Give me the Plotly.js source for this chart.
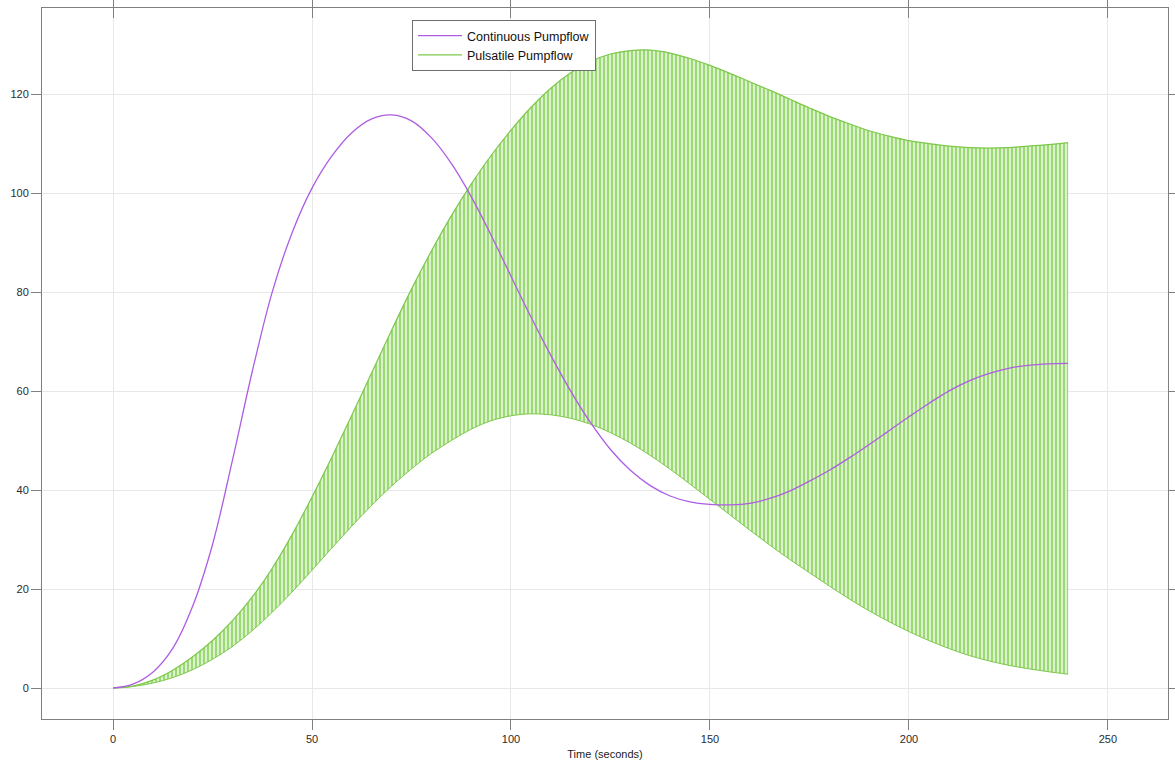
<!DOCTYPE html>
<html>
<head>
<meta charset="utf-8">
<script src="https://cdn.plot.ly/plotly-3.0.1.min.js"></script>
<style>
  html, body { margin: 0; padding: 0; background: #ffffff; }
  #chart { width: 1175px; height: 761px; }
</style>
</head>
<body>
<div id="chart"></div>
<script>
// Sample times (seconds)
const time = [0, 5, 10, 15, 20, 25, 30, 35, 40, 45, 50, 55, 60, 65, 70, 75, 80, 85, 90, 95,
  100, 105, 110, 115, 120, 125, 130, 135, 140, 145, 150, 155, 160, 165, 170, 175, 180, 185, 190, 195,
  200, 205, 210, 215, 220, 225, 230, 235, 240];

// Continuous pumpflow
const continuous = [0, 0.8, 3.2, 8, 16.5, 29, 46, 64, 80, 92, 101, 107.5, 112.2, 115, 115.8, 114.6, 111.2, 106, 99.3, 91.5,
  83.2, 75, 67.2, 60, 53.6, 48.2, 44, 40.9, 38.8, 37.6, 37.1, 37, 37.3, 38.3, 39.8, 41.8, 44, 46.5, 49.2, 52,
  54.8, 57.5, 60, 62, 63.5, 64.6, 65.2, 65.5, 65.6];

// Pulsatile pumpflow: peak values of the pulses
const pulsatileUpper = [0, 0.4, 1.6, 3.6, 6.3, 9.6, 13.6, 18.4, 24.2, 31, 38.6, 46.7, 55.1, 63.7, 72.3, 80.6, 88.3, 95.4, 101.8, 107.6,
  112.7, 117.3, 121.2, 124.3, 126.6, 128.1, 128.8, 128.9, 128.3, 127.2, 125.8, 124.2, 122.5, 120.8, 119, 117.2, 115.5, 114, 112.6, 111.5,
  110.6, 110, 109.5, 109.2, 109.1, 109.2, 109.5, 109.8, 110.2];

// Pulsatile pumpflow: trough values of the pulses
const pulsatileLower = [0, 0.3, 1, 2.1, 3.7, 5.8, 8.4, 11.6, 15.3, 19.4, 23.8, 28.3, 32.7, 36.9, 40.8, 44.3, 47.4, 50, 52.3, 54,
  55, 55.4, 55.2, 54.5, 53.3, 51.6, 49.5, 47, 44.2, 41.2, 38.1, 35, 31.9, 28.9, 26, 23.3, 20.6, 18, 15.6, 13.4,
  11.4, 9.6, 8, 6.6, 5.5, 4.6, 3.9, 3.3, 2.8];

const xTicks = [0, 50, 100, 150, 200, 250];
const yTicks = [0, 20, 40, 60, 80, 100, 120];

const purple = '#ad5de3';
const green = '#7dc84b';
const FONT = 'Liberation Sans, Arial, Helvetica, sans-serif';
const X_RANGE = [-17.85, 265.1];

const traces = [
  {
    x: time, y: pulsatileLower, type: 'scatter', mode: 'lines',
    showlegend: false, hoverinfo: 'skip',
    line: { color: green, width: 1, shape: 'spline' }
  },
  {
    x: time, y: pulsatileUpper, type: 'scatter', mode: 'lines',
    showlegend: false, fill: 'tonexty',
    fillcolor: '#dcf2cc',
    fillpattern: { shape: '|', size: 4, solidity: 0.4, fgcolor: '#8ad35d', bgcolor: '#dcf2cc' },
    line: { color: green, width: 1.2, shape: 'spline' }
  },
  {
    x: time, y: continuous, type: 'scatter', mode: 'lines',
    name: 'Continuous Pumpflow', legendrank: 1,
    line: { color: purple, width: 1.3, shape: 'spline' }
  },
  {
    x: [null], y: [null], type: 'scatter', mode: 'lines', xaxis: 'x2',
    name: 'Pulsatile Pumpflow', legendrank: 2,
    line: { color: green, width: 1.3 }
  }
];

const axisCommon = {
  showgrid: true, gridcolor: '#e8e8e8', gridwidth: 1,
  showline: true, linecolor: '#808080', linewidth: 1,
  mirror: 'ticks', ticks: 'outside', ticklen: 10, tickcolor: '#808080', tickwidth: 1,
  zeroline: false,
  tickfont: { family: FONT, size: 11, color: '#2b2b2b' }
};

const layout = {
  width: 1175, height: 761,
  margin: { l: 42, r: 7, t: 8, b: 42 },
  paper_bgcolor: '#ffffff', plot_bgcolor: '#ffffff',
  font: { family: FONT, size: 11, color: '#2b2b2b' },
  showlegend: true,
  legend: {
    x: 0.3286, y: 0.983, xanchor: 'left', yanchor: 'top',
    traceorder: 'normal',
    bgcolor: '#ffffff', bordercolor: '#6e6e6e', borderwidth: 1,
    font: { family: FONT, size: 12.5, color: '#111111' },
    tracegroupgap: 0, itemwidth: 44
  },
  xaxis: Object.assign({}, axisCommon, {
    range: X_RANGE, tickmode: 'array', tickvals: xTicks,
    title: { text: 'Time (seconds)', font: { family: FONT, size: 11, color: '#222222' }, standoff: 6 }
  }),
  xaxis2: {
    overlaying: 'x', side: 'top', range: X_RANGE, tickmode: 'array', tickvals: xTicks,
    ticks: 'inside', ticklen: 10, tickcolor: '#808080', tickwidth: 1,
    showticklabels: false, showgrid: false, showline: false, zeroline: false
  },
  yaxis: Object.assign({}, axisCommon, {
    range: [-6.26, 137.4], tickmode: 'array', tickvals: yTicks
  })
};

Plotly.newPlot('chart', traces, layout, { displayModeBar: false, staticPlot: true });
</script>
</body>
</html>
